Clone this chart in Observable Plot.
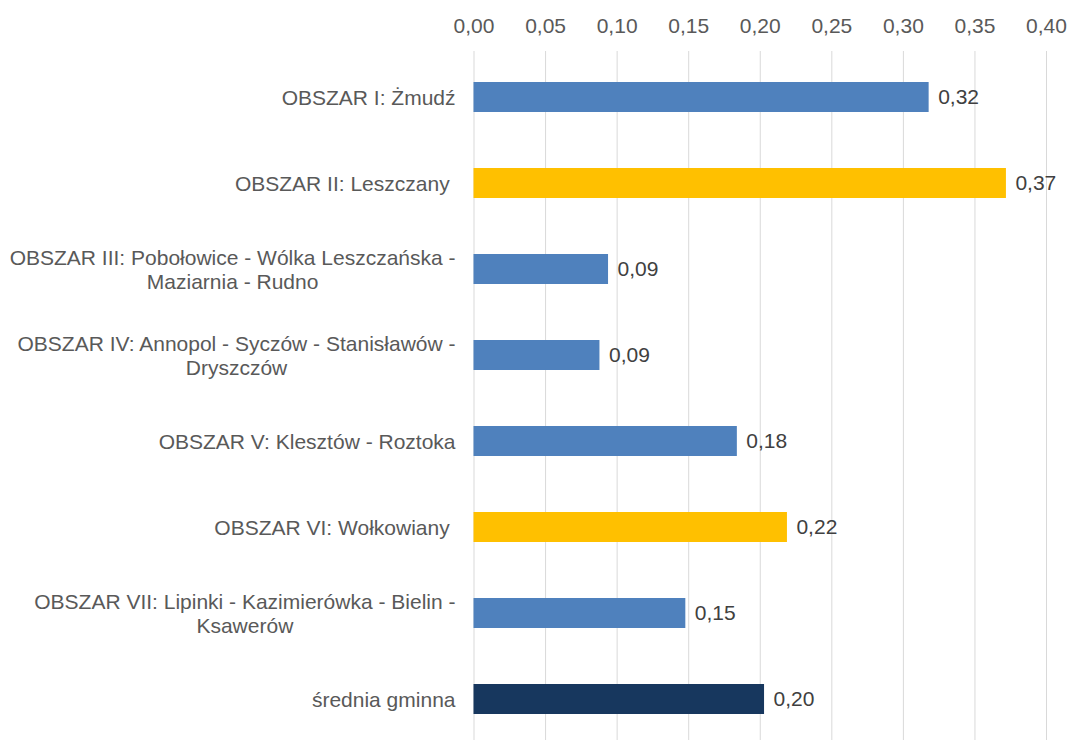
<!DOCTYPE html>
<html><head><meta charset="utf-8">
<script src="https://cdn.jsdelivr.net/npm/d3@7"></script>
<script src="https://cdn.jsdelivr.net/npm/@observablehq/plot@0.6"></script>
<style>
  html, body { margin: 0; padding: 0; background: #fff; }
  svg text { white-space: pre; }
</style>
</head><body><div id="chart"></div>
<script>
// ---- data ----
const categories = [
  "OBSZAR I: Żmudź",
  "OBSZAR II: Leszczany ",
  "OBSZAR III: Pobołowice - Wólka Leszczańska -\nMaziarnia - Rudno",
  "OBSZAR IV: Annopol - Syczów - Stanisławów -\nDryszczów",
  "OBSZAR V: Klesztów - Roztoka",
  "OBSZAR VI: Wołkowiany ",
  "OBSZAR VII: Lipinki - Kazimierówka - Bielin -\nKsawerów",
  "średnia gminna"
];
const values = [0.318, 0.372, 0.094, 0.088, 0.184, 0.219, 0.148, 0.203];
const groups = ["obszar", "wyróżniony", "obszar", "obszar", "obszar", "wyróżniony", "obszar", "średnia"];
const groupDomain = ["obszar", "wyróżniony", "średnia"];
const groupColors = ["#4F81BD", "#FFC000", "#17375E"];
const xTicks = [0, 0.05, 0.10, 0.15, 0.20, 0.25, 0.30, 0.35, 0.40];

const data = categories.map((c, i) => ({category: c, value: values[i], group: groups[i]}));
const fmt = v => d3.format(".2f")(v).replace(".", ",");

const chart = Plot.plot({
  width: 1067,
  height: 740,
  marginLeft: 473.5,
  marginRight: 21,
  marginTop: 51,
  marginBottom: 0,
  style: {fontFamily: "'Liberation Sans', Arial, sans-serif", fontSize: "21px", background: "#fff"},
  x: {domain: [0, 0.4], axis: null, label: null},
  y: {domain: categories, range: [50.8, 745.2], paddingInner: 0.65, paddingOuter: 0.325, axis: null, label: null},
  color: {domain: groupDomain, range: groupColors},
  marks: [
    Plot.gridX(xTicks, {stroke: "#d9d9d9", strokeOpacity: 1, strokeWidth: 1}),
    Plot.axisX(xTicks, {anchor: "top", label: null, tickSize: 0, tickPadding: 19, tickFormat: fmt, fill: "#595959", fontSize: 21}),
    Plot.axisY({anchor: "left", label: null, tickSize: 0, tickPadding: 18.5, fill: "#595959", fontSize: 21, lineHeight: 1.15}),
    Plot.barX(data, {y: "category", x: "value", fill: "group"}),
    Plot.text(data, {y: "category", x: "value", text: d => fmt(d.value), textAnchor: "start", dx: 9, fill: "#404040", fontSize: 21})
  ]
});
document.getElementById("chart").appendChild(chart);

// center wrapped lines within their right-aligned block (as in the original)
chart.querySelectorAll('g[aria-label="y-axis tick label"] text').forEach(t => {
  t.setAttribute("xml:space", "preserve");
  const spans = t.querySelectorAll("tspan");
  if (spans.length > 1) {
    let w = 0;
    spans.forEach(s => { w = Math.max(w, s.getComputedTextLength()); });
    t.setAttribute("text-anchor", "middle");
    spans.forEach(s => s.setAttribute("x", -w / 2));
  }
});
</script>
</body></html>
